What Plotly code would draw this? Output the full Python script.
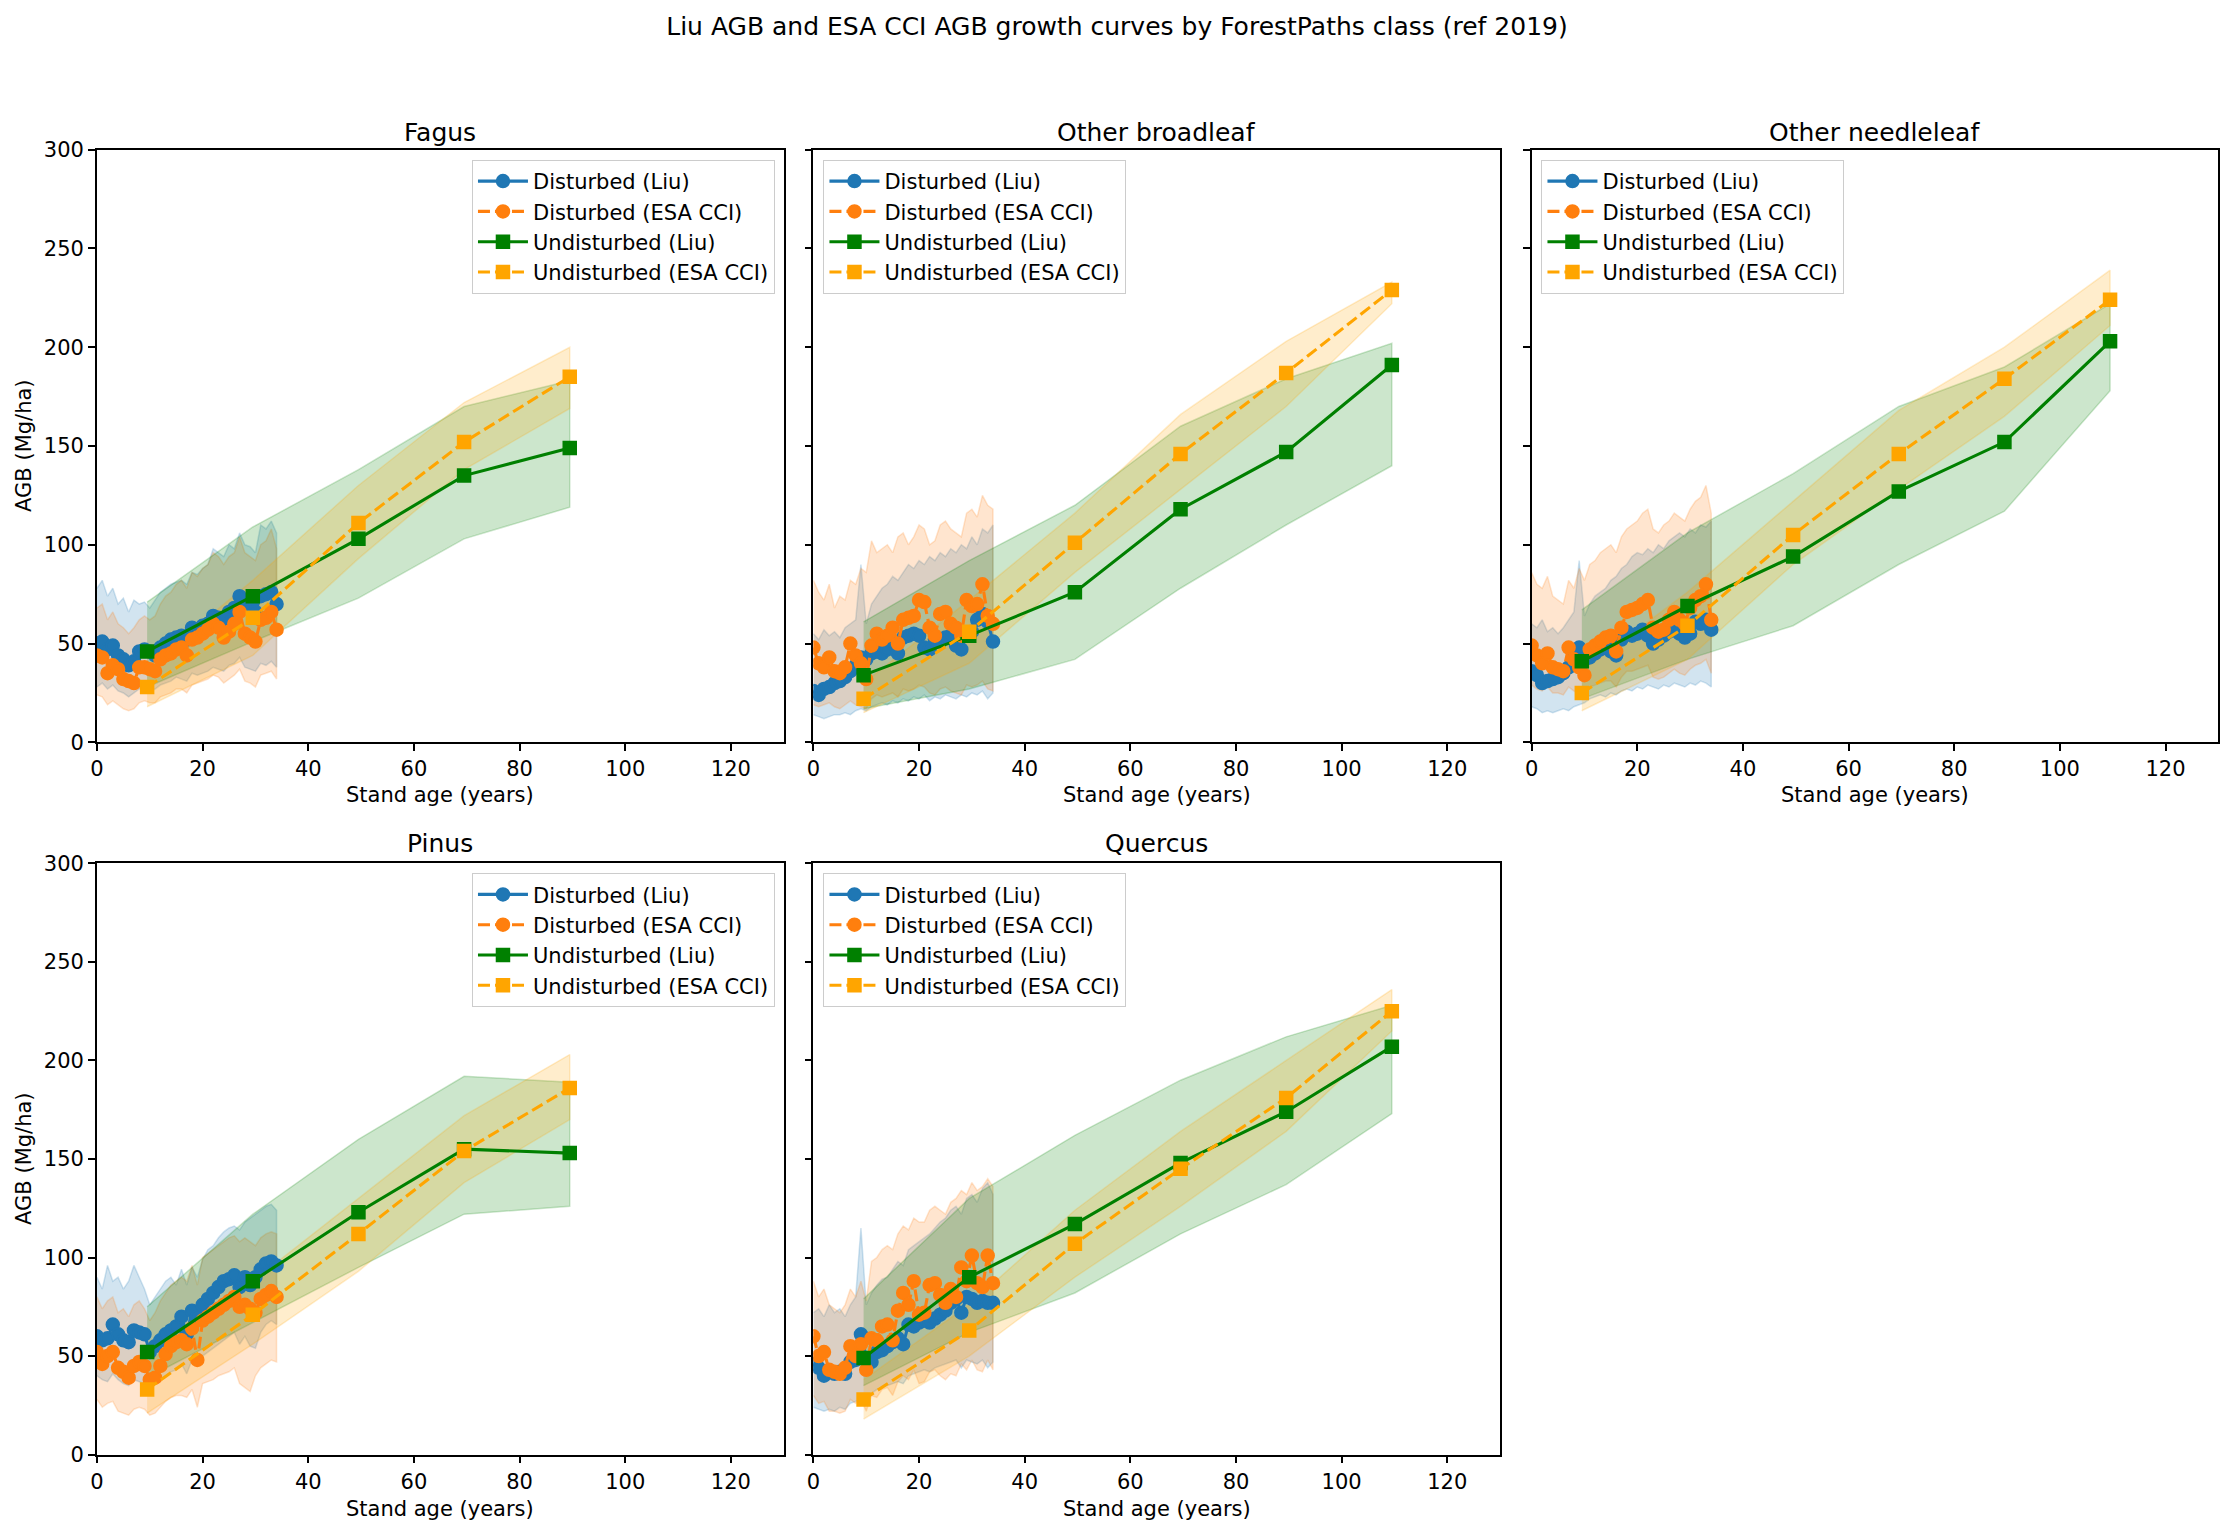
import plotly.graph_objects as go

# ---------------- data ----------------
AGES_DIST = [0, 1, 2, 3, 4, 5, 6, 7, 8, 9, 10, 11, 12, 13, 14, 15, 16, 17, 18, 19,
             20, 21, 22, 23, 24, 25, 26, 27, 28, 29, 30, 31, 32, 33, 34]
AGES_UND = [9.5, 29.5, 49.5, 69.5, 89.5, 109.5]
CLASSES = ["Fagus", "Other broadleaf", "Other needleleaf", "Pinus", "Quercus"]
TITLE = "Liu AGB and ESA CCI AGB growth curves by ForestPaths class (ref 2019)"
X_TICKS = [0, 20, 40, 60, 80, 100, 120]
Y_TICKS = [0, 50, 100, 150, 200, 250, 300]

# Fagus
fagus_dl = [50, 51, 47, 49, 44, 42, 39, 41, 46, 47, 46, 44, 48, 50, 52, 53, 54, 52, 58, 57,
            59, 60, 64, 63, 62, 66, 68, 74, 68, 70, 66, 74, 75, 76, 70]
fagus_dl_lo = [28, 30, 27, 29, 26, 25, 23, 25, 27, 27, 26, 27, 29, 30, 31, 33, 32, 31, 35, 34,
               35, 36, 38, 37, 36, 39, 40, 43, 38, 37, 36, 40, 39, 41, 38]
fagus_dl_hi = [78, 82, 74, 78, 70, 73, 66, 72, 70, 71, 68, 72, 76, 78, 80, 81, 82, 80, 86, 85,
               88, 90, 98, 96, 94, 100, 98, 106, 100, 99, 96, 110, 108, 112, 106]
fagus_de = [44, 43, 35, 39, 37, 32, 31, 30, 38, 38, 37, 36, 42, 44, 45, 47, 48, 44, 52, 53,
            55, 57, 60, 58, 53, 56, 60, 66, 55, 53, 51, 62, 63, 66, 57]
fagus_de_lo = [24, 23, 19, 21, 19, 17, 16, 17, 20, 21, 20, 20, 23, 24, 25, 27, 27, 25, 29, 30,
               31, 32, 34, 33, 30, 32, 34, 37, 31, 30, 28, 34, 35, 36, 32]
fagus_de_hi = [68, 70, 62, 66, 60, 58, 55, 58, 62, 64, 62, 64, 70, 74, 76, 80, 82, 78, 86, 84,
               88, 90, 96, 94, 90, 94, 96, 104, 96, 94, 92, 100, 102, 108, 98]
fagus_ul = [46, 74, 103, 135, 149]
fagus_ul_lo = [28, 51, 73, 103, 119]
fagus_ul_hi = [71, 109, 138, 170, 183]
fagus_ue = [28, 63, 111, 152, 185]
fagus_ue_lo = [18, 44, 93, 138, 169]
fagus_ue_hi = [38, 82, 130, 172, 200]

# Other broadleaf
broad_dl = [26, 24, 27, 28, 30, 31, 33, 36, 39, 43, 42, 45, 46, 45, 47, 50, 45, 53, 54, 55,
            54, 48, 47, 52, 51, 53, 54, 49, 47, 55, 56, 62, 65, 61, 51]
broad_dl_lo = [14, 13, 12, 13, 14, 14, 15, 14, 16, 17, 16, 18, 19, 20, 19, 21, 20, 22, 21, 23,
               22, 24, 21, 23, 22, 24, 23, 22, 24, 23, 25, 24, 26, 22, 25]
broad_dl_hi = [55, 52, 57, 54, 56, 53, 58, 60, 62, 90, 60, 70, 74, 78, 80, 84, 82, 86, 90, 88,
               92, 90, 94, 92, 96, 94, 98, 96, 100, 98, 104, 100, 108, 106, 110]
broad_de = [48, 40, 38, 43, 36, 35, 38, 50, 44, 40, 32, 49, 55, 52, 54, 58, 50, 62, 63, 64,
            72, 71, 58, 54, 65, 66, 60, 58, 54, 72, 69, 70, 80, 64, 60]
broad_de_lo = [19, 18, 19, 20, 18, 17, 19, 21, 19, 18, 17, 22, 24, 23, 24, 25, 23, 27, 26, 27,
               29, 28, 25, 24, 27, 28, 26, 25, 24, 29, 28, 29, 31, 27, 26]
broad_de_hi = [82, 76, 72, 80, 68, 74, 72, 82, 80, 88, 86, 102, 96, 98, 100, 96, 104, 106, 100, 104,
               110, 108, 100, 102, 110, 112, 108, 106, 104, 116, 118, 114, 125, 120, 118]
broad_ul = [34, 54, 76, 118, 147, 191]
broad_ul_lo = [17, 27, 42, 78, 110, 140]
broad_ul_hi = [61, 92, 120, 160, 184, 202]
broad_ue = [22, 56, 101, 146, 187, 229]
broad_ue_lo = [15, 40, 86, 128, 170, 222]
broad_ue_hi = [30, 72, 116, 166, 203, 233]

# Other needleleaf
needle_dl = [36, 34, 30, 31, 32, 33, 35, 38, 44, 48, 42, 43, 45, 47, 49, 46, 44, 52, 56, 54,
             55, 57, 54, 50, 52, 54, 56, 59, 55, 53, 55, 61, 60, 62, 57]
needle_dl_lo = [18, 17, 15, 16, 15, 16, 17, 16, 18, 19, 20, 22, 23, 24, 23, 25, 24, 26, 27, 26,
                28, 27, 29, 28, 27, 29, 28, 30, 29, 28, 30, 29, 31, 30, 28]
needle_dl_hi = [60, 58, 62, 56, 58, 55, 58, 62, 66, 92, 64, 70, 74, 76, 78, 82, 84, 88, 90, 94,
                96, 95, 98, 96, 100, 98, 102, 104, 106, 104, 108, 106, 110, 109, 112]
needle_de = [49, 44, 40, 45, 38, 37, 36, 48, 42, 38, 34, 47, 49, 51, 53, 54, 46, 58, 66, 67,
             68, 70, 72, 58, 56, 57, 62, 66, 62, 60, 68, 72, 74, 80, 62]
needle_de_lo = [29, 27, 26, 28, 25, 25, 24, 28, 26, 25, 23, 28, 29, 30, 31, 31, 28, 33, 36, 36,
                37, 38, 39, 33, 32, 33, 35, 37, 35, 34, 37, 39, 40, 42, 35]
needle_de_hi = [86, 80, 78, 84, 74, 72, 70, 82, 78, 88, 82, 90, 92, 96, 98, 100, 96, 104, 108, 110,
                112, 116, 118, 108, 106, 110, 112, 116, 114, 112, 118, 122, 124, 130, 116]
needle_ul = [41, 69, 94, 127, 152, 203]
needle_ul_lo = [22, 42, 59, 90, 117, 178]
needle_ul_hi = [67, 106, 136, 170, 190, 222]
needle_ue = [25, 59, 105, 146, 184, 224]
needle_ue_lo = [16, 42, 90, 128, 165, 211]
needle_ue_hi = [36, 76, 122, 168, 200, 239]

# Pinus
pinus_dl = [60, 58, 59, 66, 61, 58, 57, 63, 62, 61, 52, 55, 58, 61, 63, 65, 70, 61, 73, 70,
            76, 79, 82, 85, 88, 89, 91, 85, 90, 86, 90, 94, 97, 98, 96]
pinus_dl_lo = [40, 38, 37, 41, 38, 36, 35, 38, 37, 36, 34, 36, 38, 40, 42, 43, 46, 41, 48, 46,
               50, 52, 54, 56, 58, 60, 62, 56, 60, 55, 54, 62, 66, 68, 66]
pinus_dl_hi = [90, 84, 96, 88, 90, 84, 88, 96, 90, 84, 76, 80, 84, 88, 90, 86, 94, 86, 95, 90,
               99, 104, 106, 110, 113, 115, 116, 114, 118, 120, 122, 124, 126, 127, 124]
pinus_de = [52, 46, 50, 52, 44, 42, 39, 45, 47, 45, 38, 39, 45, 51, 55, 57, 58, 56, 64, 48,
            68, 70, 72, 74, 76, 78, 80, 75, 76, 74, 72, 79, 81, 83, 80]
pinus_de_lo = [28, 24, 26, 27, 22, 21, 20, 23, 24, 23, 20, 21, 24, 27, 29, 30, 30, 29, 33, 24,
               36, 37, 38, 40, 41, 42, 44, 36, 34, 32, 40, 44, 46, 48, 47]
pinus_de_hi = [80, 74, 78, 80, 72, 74, 70, 76, 78, 74, 68, 72, 78, 82, 86, 88, 90, 88, 96, 86,
               100, 102, 104, 106, 108, 110, 111, 108, 110, 108, 106, 110, 112, 113, 112]
pinus_ul = [52, 88, 123, 155, 153]
pinus_ul_lo = [39, 67, 95, 122, 126]
pinus_ul_hi = [75, 122, 160, 192, 189]
pinus_ue = [33, 71, 112, 154, 186]
pinus_ue_lo = [21, 56, 93, 138, 170]
pinus_ue_hi = [46, 88, 130, 172, 203]

# Quercus
quercus_dl = [46, 44, 40, 42, 41, 42, 41, 47, 48, 61, 49, 47, 52, 53, 55, 57, 59, 56, 66, 65,
              67, 68, 67, 69, 71, 73, 77, 79, 72, 80, 79, 77, 78, 77, 77]
quercus_dl_lo = [24, 23, 22, 23, 22, 24, 23, 26, 27, 28, 30, 31, 33, 34, 35, 36, 37, 36, 40, 41,
                 42, 43, 42, 44, 45, 46, 47, 48, 44, 48, 47, 46, 48, 44, 47]
quercus_dl_hi = [72, 74, 70, 76, 72, 74, 70, 76, 80, 115, 76, 82, 86, 89, 90, 94, 98, 96, 104, 106,
                 108, 110, 112, 115, 118, 120, 124, 126, 122, 130, 132, 128, 135, 138, 132]
quercus_de = [60, 50, 52, 43, 42, 41, 44, 55, 50, 56, 43, 59, 58, 65, 66, 58, 73, 82, 76, 88,
              71, 72, 86, 87, 81, 77, 84, 80, 95, 88, 101, 87, 85, 101, 87]
quercus_de_lo = [30, 26, 27, 22, 22, 21, 22, 28, 26, 28, 22, 30, 29, 33, 34, 30, 37, 40, 38, 43,
                 36, 37, 42, 43, 40, 38, 41, 40, 46, 43, 48, 43, 42, 48, 43]
quercus_de_hi = [88, 80, 84, 76, 74, 72, 76, 84, 80, 88, 78, 98, 100, 104, 106, 104, 112, 116, 114, 120,
                 118, 118, 124, 126, 124, 122, 128, 130, 134, 132, 138, 134, 136, 140, 136]
quercus_ul = [49, 90, 117, 148, 174, 207]
quercus_ul_lo = [35, 62, 82, 112, 137, 173]
quercus_ul_hi = [79, 130, 162, 190, 212, 228]
quercus_ue = [28, 63, 107, 145, 181, 225]
quercus_ue_lo = [18, 50, 90, 126, 164, 215]
quercus_ue_hi = [38, 76, 124, 164, 200, 236]

PANELS = [
    (fagus_dl, fagus_dl_lo, fagus_dl_hi, fagus_de, fagus_de_lo, fagus_de_hi,
     fagus_ul, fagus_ul_lo, fagus_ul_hi, fagus_ue, fagus_ue_lo, fagus_ue_hi),
    (broad_dl, broad_dl_lo, broad_dl_hi, broad_de, broad_de_lo, broad_de_hi,
     broad_ul, broad_ul_lo, broad_ul_hi, broad_ue, broad_ue_lo, broad_ue_hi),
    (needle_dl, needle_dl_lo, needle_dl_hi, needle_de, needle_de_lo, needle_de_hi,
     needle_ul, needle_ul_lo, needle_ul_hi, needle_ue, needle_ue_lo, needle_ue_hi),
    (pinus_dl, pinus_dl_lo, pinus_dl_hi, pinus_de, pinus_de_lo, pinus_de_hi,
     pinus_ul, pinus_ul_lo, pinus_ul_hi, pinus_ue, pinus_ue_lo, pinus_ue_hi),
    (quercus_dl, quercus_dl_lo, quercus_dl_hi, quercus_de, quercus_de_lo, quercus_de_hi,
     quercus_ul, quercus_ul_lo, quercus_ul_hi, quercus_ue, quercus_ue_lo, quercus_ue_hi),
]

# ---------------- style ----------------
FONT = "DejaVu Sans"
C_DL = "#1f77b4"
C_DE = "#ff7f0e"
C_UL = "#008000"
C_UE = "#FFA500"
F_DL = "rgba(31,119,180,0.2)"
F_DE = "rgba(255,127,14,0.2)"
F_UL = "rgba(0,128,0,0.2)"
F_UE = "rgba(255,165,0,0.2)"

W, H = 2234, 1535
COLS = [(0.0434, 0.3508), (0.3641, 0.6715), (0.6856, 0.9930)]
ROWS = [(0.5164, 0.9025), (0.0524, 0.4375)]
POS = [(0, 0), (0, 1), (0, 2), (1, 0), (1, 1)]
LEGEND_POS = [
    dict(x=0.3469, y=0.8958, xanchor="right", yanchor="top"),
    dict(x=0.3686, y=0.8958, xanchor="left", yanchor="top"),
    dict(x=0.6900, y=0.8958, xanchor="left", yanchor="top"),
    dict(x=0.3469, y=0.4311, xanchor="right", yanchor="top"),
    dict(x=0.3686, y=0.4311, xanchor="left", yanchor="top"),
]

fig = go.Figure()
layout = dict(
    width=W, height=H, margin=dict(l=0, r=0, t=0, b=0, autoexpand=False),
    paper_bgcolor="white", plot_bgcolor="white",
    font=dict(family=FONT, size=21, color="black"),
    title=dict(text=TITLE, x=0.5, xanchor="center", y=0.983, yanchor="middle",
               font=dict(family=FONT, size=25, color="black")),
    annotations=[],
)


def band(x, lo, hi, fill, xa, ya):
    return go.Scatter(x=list(x) + list(x)[::-1], y=list(hi) + list(lo)[::-1],
                      fill="toself", fillcolor=fill, mode="lines",
                      line=dict(color=fill, width=1.5), hoverinfo="skip",
                      showlegend=False, xaxis=xa, yaxis=ya)


def curve(x, y, color, dash, symbol, name, leg, xa, ya):
    return go.Scatter(x=x, y=y, mode="lines+markers", name=name,
                      line=dict(color=color, width=3.1, dash=dash),
                      marker=dict(color=color, size=12.5, symbol=symbol,
                                  line=dict(width=2, color=color)),
                      legend=leg, xaxis=xa, yaxis=ya)


for i, (name, data) in enumerate(zip(CLASSES, PANELS)):
    (dl, dl_lo, dl_hi, de, de_lo, de_hi, ul, ul_lo, ul_hi, ue, ue_lo, ue_hi) = data
    r, c = POS[i]
    n = i + 1
    xa = "x" if n == 1 else f"x{n}"
    ya = "y" if n == 1 else f"y{n}"
    leg = "legend" if n == 1 else f"legend{n}"
    au = AGES_UND[:len(ul)]

    # fills below all lines (matplotlib z-order)
    fig.add_trace(band(AGES_DIST, dl_lo, dl_hi, F_DL, xa, ya))
    fig.add_trace(band(AGES_DIST, de_lo, de_hi, F_DE, xa, ya))
    fig.add_trace(band(au, ul_lo, ul_hi, F_UL, xa, ya))
    fig.add_trace(band(au, ue_lo, ue_hi, F_UE, xa, ya))
    fig.add_trace(curve(AGES_DIST, dl, C_DL, "solid", "circle", "Disturbed (Liu)", leg, xa, ya))
    fig.add_trace(curve(AGES_DIST, de, C_DE, "12px,5px", "circle", "Disturbed (ESA CCI)", leg, xa, ya))
    fig.add_trace(curve(au, ul, C_UL, "solid", "square", "Undisturbed (Liu)", leg, xa, ya))
    fig.add_trace(curve(au, ue, C_UE, "12px,5px", "square", "Undisturbed (ESA CCI)", leg, xa, ya))

    axis_common = dict(showline=True, mirror=True, linecolor="black", linewidth=1.6,
                       ticks="outside", ticklen=7, tickwidth=1.6, tickcolor="black",
                       showgrid=False, zeroline=False, automargin=False,
                       tickfont=dict(family=FONT, size=21, color="black"))
    layout[f"xaxis{n}"] = dict(axis_common, domain=list(COLS[c]), anchor=ya, range=[0, 130],
                               tickvals=X_TICKS, ticktext=[str(v) for v in X_TICKS])
    layout[f"yaxis{n}"] = dict(axis_common, domain=list(ROWS[r]), anchor=xa, range=[0, 300],
                               tickvals=Y_TICKS, ticktext=[str(v) for v in Y_TICKS],
                               showticklabels=(c == 0))
    layout[leg] = dict(LEGEND_POS[i], bgcolor="rgba(255,255,255,0.8)", bordercolor="#cccccc",
                       borderwidth=1, font=dict(family=FONT, size=21, color="black"),
                       tracegroupgap=0, itemwidth=50)

    xc = (COLS[c][0] + COLS[c][1]) / 2
    ytop = [0.914, 0.4506][r]
    yxt = [0.4821, 0.0171][r]
    layout["annotations"].append(dict(text=name, x=xc, y=ytop, xref="paper", yref="paper",
                                      xanchor="center", yanchor="middle", showarrow=False,
                                      font=dict(family=FONT, size=25, color="black")))
    layout["annotations"].append(dict(text="Stand age (years)", x=xc, y=yxt, xref="paper",
                                      yref="paper", xanchor="center", yanchor="middle",
                                      showarrow=False,
                                      font=dict(family=FONT, size=21, color="black")))
    if c == 0:
        ymid = (ROWS[r][0] + ROWS[r][1]) / 2
        layout["annotations"].append(dict(text="AGB (Mg/ha)", x=0.0107, y=ymid, xref="paper",
                                          yref="paper", xanchor="center", yanchor="middle",
                                          textangle=-90, showarrow=False,
                                          font=dict(family=FONT, size=21, color="black")))

fig.update_layout(**layout)
fig.write_html("out.html")
